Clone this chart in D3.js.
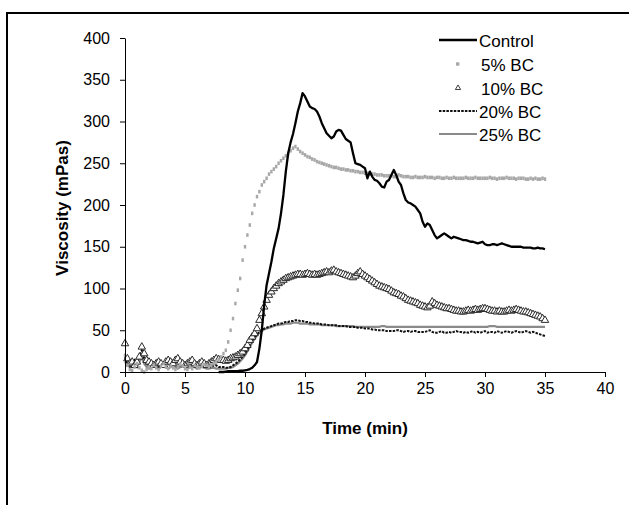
<!DOCTYPE html>
<html>
<head>
  <script src="https://d3js.org/d3.v7.min.js"></script>
  <style>
    body { margin: 0; background: #fff; }
    svg { display: block; font-family: "Liberation Sans", Arial, sans-serif; }
    .axis path, .axis line { stroke: #000; stroke-width: 1; }
    .axis text { font-size: 16px; fill: #000; }
    .axis-title { font-size: 17px; font-weight: bold; }
    .legend text { font-size: 17px; }
  </style>
</head>
<body>
  <div id="chart"></div>
  <script>
    // readings every 0.2 min, from 0 to 35 min
    var timeStep = 0.2;

    var control = [
      null, null, null, null, null, null, null, null, null, null,
      null, null, null, null, null, null, null, null, null, null,
      null, null, null, null, null, null, null, null, null, null,
      null, null, null, null, null, null, null, null, null, 0,
      0, 0, 0.5, 1, 1, 1, 1, 1, 1.5, 1.5,
      2, 2.5, 3.5, 5, 8, 12, 28, 50, 80, 104,
      118, 132, 148, 160, 172, 190, 212, 240, 262, 275,
      285, 298, 312, 322, 334, 330, 324, 318, 316, 315,
      312, 306, 298, 292, 286, 283, 280, 282, 288, 290,
      289, 284, 279, 277, 275, 262, 250, 249, 248, 246,
      244, 232, 240, 234, 230, 229, 226, 222, 221, 228,
      230, 236, 242, 236, 228, 224, 214, 206, 203, 202,
      200, 198, 194, 190, 180, 174, 178, 176, 170, 164,
      160, 162, 164, 166, 164, 162, 160, 162, 161, 160,
      159, 158, 158, 157, 156, 156, 155, 154, 155, 156,
      153, 152, 152, 153, 153, 152, 153, 154, 153, 152,
      151, 150, 150, 150, 150, 150, 149, 149, 149, 149,
      148, 148, 149, 148, 148, 147
    ];

    var bc5 = [
      20, 8, 3, 2, 6, 10, 5, 2, 0, 3,
      6, 4, 8, 5, 3, 7, 10, 6, 4, 7,
      5, 3, 6, 9, 7, 4, 3, 6, 4, 8,
      6, 5, 7, 9, 8, 6, 8, 10, 12, 15,
      18, 22, 26, 36, 50, 64, 82, 98, 112, 134,
      150, 164, 176, 190, 200, 210, 216, 224, 228, 232,
      237, 240, 243, 246, 250, 253, 256, 259, 262, 265,
      268, 270, 267, 264, 262, 260, 258, 257, 255, 254,
      252, 251, 250, 249, 248, 247, 246, 245, 245, 244,
      243, 243, 242, 242, 241, 241, 240, 240, 239, 239,
      238, 238, 237, 237, 237, 236, 236, 236, 235, 235,
      235, 235, 234, 234, 236, 235, 234, 234, 234, 233,
      233, 234, 233, 233, 233, 234, 233, 233, 233, 232,
      233, 233, 232, 232, 233, 232, 232, 233, 232, 232,
      232, 232, 233, 232, 232, 232, 233, 232, 232, 232,
      232, 232, 233, 232, 232, 231, 232, 232, 232, 233,
      232, 232, 232, 231, 232, 232, 232, 231, 231, 232,
      231, 232, 231, 231, 232, 231
    ];

    var bc10 = [
      34, 16, 10, 12, 8, 12, 18, 30, 22, 14,
      12, 10, 8, 10, 12, 10, 8, 12, 14, 12,
      10, 14, 16, 12, 10, 8, 10, 12, 14, 10,
      8, 10, 12, 10, 8, 10, 12, 14, 16, 15,
      14, 14, 13, 14, 16, 17, 18, 20, 22, 24,
      28, 32, 38, 42, 46, 52, 62, 70, 78, 86,
      92, 96, 100, 103, 106, 108, 110, 112, 113, 114,
      115, 116, 117, 117, 116, 117, 118, 117, 116, 117,
      116, 117, 118, 119, 120, 119, 121, 122, 120, 119,
      118, 117, 116, 115, 114, 113, 115, 118, 120, 117,
      115, 113, 111, 109, 107, 105, 103, 102, 101, 100,
      99, 97, 95, 94, 93, 91, 90, 88, 86, 85,
      84, 83, 82, 80, 79, 78, 77, 79, 84, 82,
      80, 79, 78, 77, 76, 76, 75, 74, 73, 73,
      72, 72, 73, 74, 73, 74, 75, 74, 75, 76,
      76, 75, 74, 73, 73, 72, 73, 72, 72, 73,
      74, 73, 74, 75, 74, 73, 72, 72, 71, 70,
      69, 68, 67, 66, 64, 62
    ];

    var bc20 = [
      18, 10, 6, 8, 14, 10, 20, 26, 16, 10,
      8, 6, 10, 8, 6, 8, 10, 6, 8, 10,
      12, 8, 6, 10, 12, 9, 6, 8, 10, 8,
      6, 8, 10, 8, 6, 5, 6, 8, 8, 6,
      6, 6, 5, 5, 6, 8, 10, 12, 15, 18,
      22, 27, 32, 37, 41, 45, 48, 50, 52, 53,
      54, 55, 56, 57, 58, 58, 59, 60, 60, 61,
      61, 62, 62, 61, 61, 60, 60, 59, 59, 58,
      58, 58, 57, 57, 57, 56, 56, 56, 56, 55,
      55, 55, 55, 54, 54, 54, 54, 53, 53, 53,
      52, 52, 52, 51, 51, 50, 50, 50, 50, 49,
      49, 49, 49, 50, 50, 49, 48, 49, 49, 48,
      49, 49, 48, 48, 48, 48, 49, 50, 48, 47,
      47, 48, 49, 47, 47, 48, 47, 48, 49, 48,
      48, 47, 48, 47, 48, 49, 47, 48, 47, 48,
      49, 47, 48, 48, 47, 49, 48, 47, 48, 49,
      48, 47, 48, 49, 48, 47, 48, 49, 48, 47,
      48, 47, 46, 45, 44, 43
    ];

    var bc25 = [
      12, 8, 6, 8, 10, 6, 12, 18, 10, 6,
      4, 6, 8, 6, 4, 6, 8, 6, 4, 6,
      8, 6, 4, 6, 8, 6, 4, 6, 8, 6,
      4, 5, 6, 5, 4, 4, 5, 5, 4, 4,
      4, 4, 4, 5, 5, 6, 8, 10, 13, 16,
      20, 25, 30, 35, 40, 44, 47, 49, 51, 52,
      53, 54, 55, 56, 56, 57, 57, 58, 58, 58,
      59, 59, 59, 58, 58, 58, 58, 57, 57, 57,
      57, 57, 56, 56, 56, 56, 56, 56, 55, 55,
      55, 55, 55, 55, 55, 55, 54, 54, 54, 54,
      54, 54, 54, 54, 54, 54, 54, 55, 55, 54,
      54, 54, 54, 54, 54, 54, 54, 54, 54, 54,
      54, 54, 54, 54, 54, 54, 54, 54, 54, 54,
      54, 54, 54, 54, 54, 54, 54, 54, 54, 54,
      54, 54, 54, 54, 54, 54, 54, 54, 54, 54,
      54, 54, 55, 55, 55, 54, 54, 54, 54, 54,
      54, 54, 54, 54, 54, 54, 54, 54, 54, 54,
      54, 54, 54, 54, 54, 54
    ];

    var seriesNames = ["Control", "5% BC", "10% BC", "20% BC", "25% BC"];
    var xTicks = [0, 5, 10, 15, 20, 25, 30, 35, 40];
    var yTicks = [0, 50, 100, 150, 200, 250, 300, 350, 400];

    var W = 629, H = 505;
    var svg = d3.select("#chart").append("svg")
      .attr("width", W)
      .attr("height", H);

    // outer frame (only top and left edges fall inside the picture)
    svg.append("rect")
      .attr("x", 7).attr("y", 13)
      .attr("width", 700).attr("height", 600)
      .attr("fill", "none")
      .attr("stroke", "#000")
      .attr("stroke-width", 2);

    var x = d3.scaleLinear().domain([0, 40]).range([125, 605]);
    var y = d3.scaleLinear().domain([0, 400]).range([372, 38]);

    function toPoints(vals) {
      return vals.map(function(v, i) { return { t: i * timeStep, v: v }; })
        .filter(function(d) { return d.v != null; });
    }

    var line = d3.line()
      .x(function(d) { return x(d.t); })
      .y(function(d) { return y(d.v); });

    var plot = svg.append("g");

    // 25% BC - grey line
    plot.append("path")
      .datum(toPoints(bc25))
      .attr("d", line)
      .attr("fill", "none")
      .attr("stroke", "#8a8a8a")
      .attr("stroke-width", 2.2);

    // 20% BC - dark dotted line
    plot.append("path")
      .datum(toPoints(bc20))
      .attr("d", line)
      .attr("fill", "none")
      .attr("stroke", "#111")
      .attr("stroke-width", 2)
      .attr("stroke-dasharray", "2.5,1.2");

    // 10% BC - open triangles
    var tri = d3.symbol().type(d3.symbolTriangle).size(24);
    plot.append("g").selectAll("path")
      .data(toPoints(bc10))
      .enter().append("path")
      .attr("d", tri)
      .attr("transform", function(d) { return "translate(" + x(d.t) + "," + y(d.v) + ")"; })
      .attr("fill", "#fff")
      .attr("stroke", "#2a2a2a")
      .attr("stroke-width", 1);

    // 5% BC - grey squares
    plot.append("g").selectAll("rect")
      .data(toPoints(bc5))
      .enter().append("rect")
      .attr("x", function(d) { return x(d.t) - 1.2; })
      .attr("y", function(d) { return y(d.v) - 1.8; })
      .attr("width", 2.4)
      .attr("height", 3.6)
      .attr("fill", "#a8a8a8");

    // Control - black line
    plot.append("path")
      .datum(toPoints(control))
      .attr("d", line)
      .attr("fill", "none")
      .attr("stroke", "#000")
      .attr("stroke-width", 2.3)
      .attr("stroke-linejoin", "round");

    // axes
    svg.append("g")
      .attr("class", "axis")
      .attr("transform", "translate(0,372)")
      .call(d3.axisBottom(x).tickValues(xTicks).tickSize(5).tickSizeOuter(0).tickPadding(17))
      .selectAll("text").attr("dy", "0");

    svg.append("g")
      .attr("class", "axis")
      .attr("transform", "translate(125,0)")
      .call(d3.axisLeft(y).tickValues(yTicks).tickSize(5).tickSizeOuter(0).tickPadding(10));

    svg.selectAll(".axis .domain").attr("stroke-width", 1.3);

    svg.append("text")
      .attr("class", "axis-title")
      .attr("x", 365)
      .attr("y", 434)
      .attr("text-anchor", "middle")
      .text("Time (min)");

    svg.append("text")
      .attr("class", "axis-title")
      .attr("transform", "translate(68,208) rotate(-90)")
      .attr("text-anchor", "middle")
      .text("Viscosity (mPas)");

    // legend
    var legend = svg.append("g").attr("class", "legend");
    var ly = [40, 64, 88, 111, 134];
    seriesNames.forEach(function(name, i) {
      var g = legend.append("g").attr("transform", "translate(0," + ly[i] + ")");
      if (i === 0) {
        g.append("line").attr("x1", 439).attr("x2", 477).attr("y1", 0).attr("y2", 0)
          .attr("stroke", "#000").attr("stroke-width", 2.3);
      } else if (i === 1) {
        g.append("rect").attr("x", 456).attr("y", -1.7).attr("width", 3.4).attr("height", 3.4)
          .attr("fill", "#a8a8a8");
      } else if (i === 2) {
        g.append("path").attr("d", d3.symbol().type(d3.symbolTriangle).size(12))
          .attr("transform", "translate(458,0)")
          .attr("fill", "#fff").attr("stroke", "#2a2a2a").attr("stroke-width", 0.9);
      } else if (i === 3) {
        g.append("line").attr("x1", 439).attr("x2", 477).attr("y1", 0).attr("y2", 0)
          .attr("stroke", "#111").attr("stroke-width", 2).attr("stroke-dasharray", "2.5,1.2");
      } else {
        g.append("line").attr("x1", 439).attr("x2", 477).attr("y1", 0).attr("y2", 0)
          .attr("stroke", "#8a8a8a").attr("stroke-width", 2.2);
      }
      g.append("text")
        .attr("x", i === 0 || i === 3 || i === 4 ? 479 : 481)
        .attr("y", 6.5)
        .text(name);
    });
  </script>
</body>
</html>
